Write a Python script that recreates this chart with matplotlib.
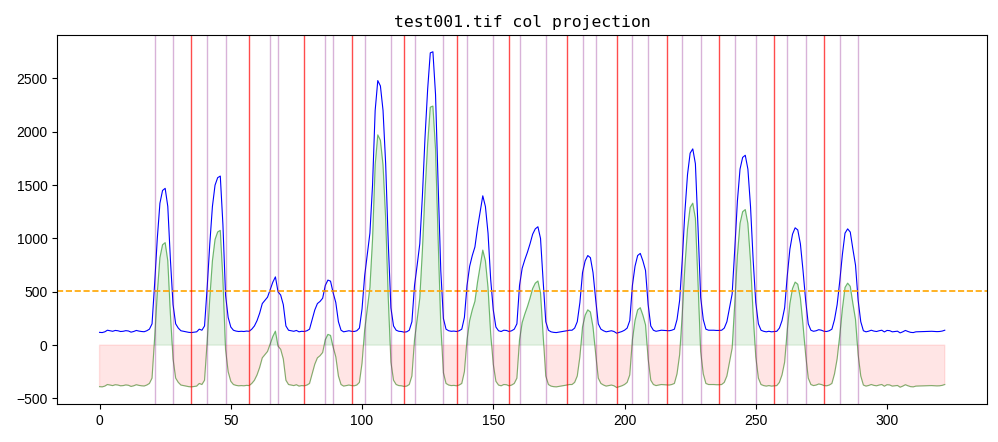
import numpy as np
import matplotlib
matplotlib.use("Agg")
import matplotlib.pyplot as plt

plt.rcParams['font.family'] = ['Liberation Sans', 'DejaVu Sans']
plt.rcParams['axes.unicode_minus'] = True

# column projection, one value per column (0..322)
col_proj = [
    120, 118, 125, 140, 135, 130, 138, 135, 128, 130,   # 0
    136, 133, 122, 128, 138, 132, 128, 126, 135, 150,   # 10
    200, 580, 1000, 1330, 1450, 1470, 1300, 800, 380, 200,   # 20
    160, 135, 130, 125, 120, 118, 122, 125, 150, 140,   # 30
    180, 540, 950, 1300, 1500, 1570, 1585, 1130, 470, 260,   # 40
    170, 140, 132, 128, 130, 128, 132, 130, 150, 180,   # 50
    230, 300, 390, 420, 450, 520, 590, 640, 500, 470,   # 60
    380, 180, 140, 135, 130, 138, 125, 130, 128, 135,   # 70
    150, 240, 330, 390, 410, 440, 560, 610, 600, 490,   # 80
    400, 220, 140, 125, 130, 135, 130, 128, 135, 160,   # 90
    340, 650, 850, 1050, 1500, 2200, 2480, 2430, 2200, 1700,   # 100
    950, 350, 180, 140, 130, 128, 122, 125, 140, 220,   # 110
    560, 750, 950, 1400, 1950, 2400, 2740, 2750, 2350, 1500,   # 120
    700, 250, 150, 135, 130, 132, 128, 135, 150, 260,   # 130
    560, 740, 840, 920, 1100, 1250, 1400, 1300, 1050, 620,   # 140
    330, 170, 135, 128, 140, 138, 128, 135, 150, 200,   # 150
    560, 720, 800, 870, 950, 1040, 1090, 1110, 1000, 600,   # 160
    220, 140, 125, 120, 118, 122, 125, 130, 135, 140,   # 170
    140, 160, 220, 400, 680, 790, 840, 820, 680, 430,   # 180
    200, 150, 135, 125, 130, 135, 128, 112, 120, 128,   # 190
    140, 160, 230, 560, 740, 840, 860, 790, 700, 380,   # 200
    180, 140, 130, 135, 140, 138, 135, 135, 140, 150,   # 210
    240, 420, 800, 1250, 1600, 1800, 1840, 1700, 1100, 450,   # 220
    240, 150, 140, 140, 140, 138, 138, 140, 160, 220,   # 230
    350, 480, 900, 1350, 1650, 1760, 1780, 1650, 1300, 800,   # 240
    400, 200, 140, 130, 125, 130, 125, 128, 130, 160,   # 250
    230, 350, 650, 900, 1040, 1100, 1080, 950, 700, 420,   # 260
    200, 140, 130, 135, 145, 140, 130, 128, 135, 150,   # 270
    240, 380, 600, 850, 1050, 1090, 1060, 900, 750, 420,   # 280
    220, 135, 125, 131, 140, 132, 128, 135, 140, 124,   # 290
    138, 136, 125, 128, 131, 115, 125, 138, 128, 120,   # 300
    118, 125, 126, 128, 128, 129, 131, 130, 128, 127,   # 310
    128, 132, 140,   # 320
]
threshold = 509

# segment boundaries (column indices)
edge_cols = [21, 28, 41, 48, 65, 68, 86, 89, 101, 111, 120, 131, 140, 150,
             160, 170, 184, 189, 203, 209, 222, 229, 242, 250, 262, 269,
             282, 289]
cut_cols = [35, 57, 78, 96, 116, 136, 156, 178, 197, 216, 236, 257, 276]

proj = np.array(col_proj, dtype=float)
x = np.arange(len(proj))
diff = proj - threshold

fig = plt.figure(figsize=(9.98, 4.42), dpi=100)
ax = fig.add_axes([0.0574, 0.0853, 0.9316, 0.8355])

ax.plot(x, proj, color='blue', linewidth=0.8)
ax.plot(x, diff, color='green', linewidth=0.8, alpha=0.5)
ax.fill_between(x, diff, 0, where=diff > 0, color='green', alpha=0.1,
                interpolate=True)
ax.fill_between(x, diff, 0, where=diff < 0, color='red', alpha=0.1,
                interpolate=True)
ax.axhline(threshold, color='orange', linestyle='--', linewidth=1.2)

for c in edge_cols:
    ax.axvline(c, color='purple', alpha=0.3, linewidth=1)
for c in cut_cols:
    ax.axvline(c, color='red', alpha=0.7, linewidth=1)

ax.set_title("test001.tif col projection", family='DejaVu Sans Mono',
             fontsize=11.8)
ax.tick_params(labelsize=10)

plt.savefig("out.png", dpi=100)
